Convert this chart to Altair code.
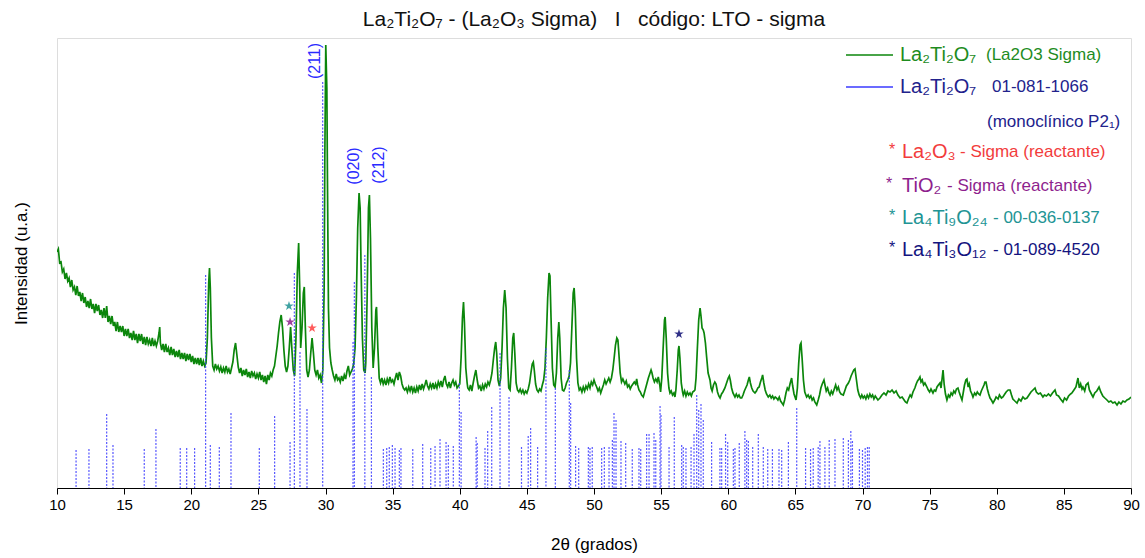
import altair as alt
import pandas as pd

# ---------------- data ----------------
# measured scan: (2theta, intensity in arbitrary units)
scan = [
 (10.0,236),(10.1,239),(10.2,225),(10.3,226),(10.4,216),(10.5,219),(10.6,209),(10.7,215),(10.8,207),(10.9,210),
 (11.0,201),(11.1,208),(11.2,198),(11.3,201),(11.4,193),(11.5,202),(11.6,192),(11.7,196),(11.8,187),(11.9,195),
 (12.0,185),(12.1,191),(12.2,181),(12.3,187),(12.4,180),(12.5,189),(12.6,179),(12.7,184),(12.8,175),(12.9,184),
 (13.0,177),(13.1,183),(13.2,173),(13.3,178),(13.4,170),(13.5,180),(13.6,170),(13.7,182),(13.8,166),(13.9,172),
 (14.0,164),(14.1,172),(14.2,162),(14.3,166),(14.4,157),(14.5,166),(14.6,156),(14.7,162),(14.8,156),(14.9,162),
 (15.0,152),(15.1,159),(15.2,152),(15.3,159),(15.4,150),(15.5,155),(15.6,148),(15.7,157),(15.8,148),(15.9,154),
 (16.0,145),(16.1,154),(16.2,147),(16.3,154),(16.4,144),(16.5,151),(16.6,143),(16.7,151),(16.8,144),(16.9,148),
 (17.0,142),(17.1,150),(17.2,142),(17.3,147),(17.4,142),(17.5,147),(17.6,155),(17.65,161),(17.7,145),(17.8,138),
 (17.9,144),(18.0,136),(18.1,144),(18.2,136),(18.3,140),(18.4,133),(18.5,141),(18.6,133),(18.7,139),(18.8,131),
 (18.9,137),(19.0,131),(19.1,138),(19.2,129),(19.3,135),(19.4,129),(19.5,135),(19.6,127),(19.7,134),(19.8,128),
 (19.9,134),(20.0,126),(20.1,132),(20.2,124),(20.3,130),(20.4,124),(20.5,130),(20.6,123),(20.7,130),(20.8,122),
 (20.9,127),(21.0,122),(21.1,125),(21.2,150),(21.3,205),(21.36,220),(21.42,200),(21.5,150),(21.6,122),(21.7,118),
 (21.8,124),(21.9,119),(22.0,122),(22.1,117),(22.2,121),(22.3,115),(22.4,120),(22.5,116),(22.6,122),(22.7,116),
 (22.8,119),(22.9,114),(23.0,120),(23.1,126),(23.2,138),(23.3,145),(23.4,133),(23.5,121),(23.6,115),(23.7,120),
 (23.8,112),(23.9,118),(24.0,113),(24.1,119),(24.2,111),(24.3,116),(24.4,110),(24.5,117),(24.6,112),(24.7,115),
 (24.8,109),(24.9,114),(25.0,110),(25.1,116),(25.2,108),(25.3,113),(25.4,106),(25.5,112),(25.6,104),(25.7,113),
 (25.8,108),(25.9,115),(26.0,112),(26.1,118),(26.2,122),(26.3,132),(26.4,142),(26.5,155),(26.6,166),(26.7,173),
 (26.8,160),(26.9,138),(27.0,122),(27.1,116),(27.2,122),(27.3,140),(27.4,161),(27.5,138),(27.6,118),(27.7,112),
 (27.8,150),(27.9,215),(28.0,245),(28.08,200),(28.15,140),(28.25,160),(28.35,195),(28.42,201),(28.5,160),(28.6,118),
 (28.7,111),(28.8,118),(28.9,135),(29.0,150),(29.1,135),(29.2,118),(29.3,113),(29.4,118),(29.5,110),(29.6,113),
 (29.7,105),(29.8,118),(29.9,200),(29.95,330),(30.02,443),(30.1,400),(30.15,300),(30.22,180),(30.3,140),(30.4,125),
 (30.5,118),(30.6,112),(30.7,108),(30.8,114),(30.9,108),(31.0,110),(31.1,106),(31.2,112),(31.3,107),(31.4,113),
 (31.5,109),(31.6,117),(31.7,122),(31.8,113),(31.9,116),(32.0,119),(32.1,124),(32.2,140),(32.3,190),(32.4,260),
 (32.5,295),(32.58,280),(32.65,220),(32.75,150),(32.85,118),(32.95,115),(33.0,125),(33.1,190),(33.2,280),(33.27,293),
 (33.35,250),(33.45,160),(33.55,120),(33.65,140),(33.75,178),(33.8,181),(33.9,140),(34.0,110),(34.1,105),(34.2,110),
 (34.3,104),(34.4,108),(34.5,103),(34.6,109),(34.7,105),(34.8,111),(34.9,106),(35.0,108),(35.1,104),(35.2,110),
 (35.3,115),(35.4,108),(35.5,116),(35.6,112),(35.7,104),(35.8,100),(35.9,98),(36.0,100),(36.1,96),(36.2,101),
 (36.3,97),(36.4,102),(36.5,96),(36.6,100),(36.7,95),(36.8,101),(36.9,97),(37.0,103),(37.1,98),(37.2,104),
 (37.3,99),(37.4,103),(37.5,108),(37.6,102),(37.7,99),(37.8,104),(37.9,100),(38.0,105),(38.1,99),(38.2,104),
 (38.3,100),(38.4,106),(38.5,102),(38.6,107),(38.7,101),(38.8,108),(38.9,112),(39.0,104),(39.1,101),(39.2,106),
 (39.3,100),(39.4,105),(39.5,108),(39.6,103),(39.7,106),(39.8,100),(39.9,102),(40.0,104),(40.1,130),(40.2,170),
 (40.28,186),(40.35,165),(40.45,120),(40.55,105),(40.6,100),(40.7,98),(40.8,103),(40.9,97),(41.0,105),(41.1,112),
 (41.2,118),(41.3,108),(41.4,100),(41.5,102),(41.6,97),(41.7,103),(41.8,99),(41.9,104),(42.0,101),(42.1,106),
 (42.2,103),(42.3,108),(42.4,115),(42.5,128),(42.6,140),(42.68,146),(42.75,135),(42.85,108),(42.95,102),(43.05,110),
 (43.15,140),(43.25,180),(43.35,198),(43.45,180),(43.55,130),(43.65,100),(43.75,98),(43.85,120),(43.95,150),(44.02,155),
 (44.1,135),(44.2,105),(44.3,98),(44.4,96),(44.5,99),(44.6,95),(44.7,98),(44.8,94),(44.9,97),(45.0,95),
 (45.1,99),(45.2,105),(45.3,115),(45.4,124),(45.48,126),(45.55,118),(45.65,104),(45.75,98),(45.85,96),(45.95,99),
 (46.05,97),(46.15,103),(46.25,108),(46.35,120),(46.45,150),(46.55,190),(46.65,215),(46.72,212),(46.8,170),(46.9,120),
 (47.0,103),(47.1,101),(47.2,115),(47.3,150),(47.38,166),(47.45,150),(47.55,110),(47.65,98),(47.75,97),(47.85,100),
 (47.95,105),(48.05,108),(48.15,112),(48.25,125),(48.35,160),(48.45,195),(48.52,200),(48.6,180),(48.7,130),(48.8,105),
 (48.9,98),(49.0,100),(49.1,96),(49.2,101),(49.3,97),(49.4,102),(49.5,99),(49.6,104),(49.7,100),(49.8,106),
 (49.9,103),(50.0,108),(50.1,104),(50.2,101),(50.3,97),(50.4,100),(50.5,95),(50.6,99),(50.7,103),(50.8,108),
 (50.9,104),(51.0,107),(51.1,110),(51.2,106),(51.3,110),(51.4,118),(51.5,130),(51.6,143),(51.7,150),(51.78,148),
 (51.85,135),(51.95,115),(52.05,106),(52.15,109),(52.3,104),(52.4,107),(52.5,101),(52.6,103),(52.7,99),(52.8,102),
 (52.9,104),(53.0,106),(53.1,104),(53.18,109),(53.25,103),(53.35,98),(53.45,96),(53.55,93),(53.67,91),(53.75,95),
 (53.85,100),(53.95,105),(54.05,110),(54.15,114),(54.25,118),(54.32,115),(54.4,110),(54.5,106),(54.6,109),(54.7,106),
 (54.79,111),(54.9,103),(54.96,96),(55.05,110),(55.15,140),(55.25,168),(55.3,171),(55.38,150),(55.48,115),(55.58,100),
 (55.66,95),(55.75,97),(55.85,93),(55.95,95),(56.03,91),(56.1,98),(56.2,118),(56.28,138),(56.33,142),(56.4,130),
 (56.5,105),(56.6,96),(56.65,93),(56.75,97),(56.85,92),(56.95,96),(57.05,93),(57.15,95),(57.25,92),(57.35,96),
 (57.45,97),(57.52,98),(57.6,110),(57.7,140),(57.8,168),(57.9,180),(57.97,172),(58.05,160),(58.14,158),(58.2,155),
 (58.3,145),(58.39,131),(58.5,115),(58.64,108),(58.72,100),(58.8,97),(58.9,103),(59.0,106),(59.09,104),(59.2,96),
 (59.3,92),(59.39,90),(59.5,94),(59.6,96),(59.75,100),(59.9,106),(60.0,110),(60.08,112),(60.15,108),(60.25,100),
 (60.35,95),(60.5,91),(60.6,94),(60.7,91),(60.8,93),(60.9,90),(61.0,90),(61.1,93),(61.2,97),(61.3,100),
 (61.4,103),(61.5,108),(61.57,111),(61.65,105),(61.75,100),(61.85,97),(61.99,95),(62.1,97),(62.2,100),(62.3,101),
 (62.4,106),(62.5,110),(62.56,113),(62.65,105),(62.75,98),(62.85,94),(62.98,91),(63.1,93),(63.2,90),(63.3,92),
 (63.4,89),(63.5,91),(63.6,90),(63.7,88),(63.8,91),(63.9,87),(64.0,85),(64.1,83),(64.2,88),(64.3,95),
 (64.4,100),(64.5,98),(64.6,104),(64.72,110),(64.8,102),(64.9,94),(65.05,88),(65.15,100),(65.25,125),(65.35,143),
 (65.42,145),(65.5,130),(65.6,108),(65.7,96),(65.84,91),(65.95,93),(66.05,90),(66.15,92),(66.25,88),(66.35,90),
 (66.45,86),(66.59,83),(66.7,88),(66.8,93),(66.9,100),(67.0,104),(67.13,108),(67.22,102),(67.3,97),(67.4,100),
 (67.5,95),(67.58,93),(67.68,97),(67.78,94),(67.9,99),(68.0,103),(68.1,98),(68.2,101),(68.3,96),(68.4,94),
 (68.57,93),(68.7,98),(68.8,102),(68.95,105),(69.05,108),(69.15,112),(69.25,115),(69.35,118),(69.44,119),(69.55,108),
 (69.65,98),(69.75,93),(69.86,90),(69.95,93),(70.05,90),(70.15,92),(70.25,89),(70.35,93),(70.45,90),(70.55,94),
 (70.65,91),(70.75,93),(70.85,89),(70.95,92),(71.05,90),(71.15,88),(71.3,90),(71.45,93),(71.6,95),(71.75,93),
 (71.9,97),(72.05,96),(72.2,98),(72.35,95),(72.5,97),(72.64,93),(72.8,90),(72.95,91),(73.1,88),(73.2,86),
 (73.31,85),(73.45,90),(73.55,93),(73.65,91),(73.76,96),(73.9,100),(74.0,104),(74.1,107),(74.2,109),(74.28,111),
 (74.36,106),(74.45,108),(74.55,103),(74.65,105),(74.8,101),(74.9,98),(75.0,96),(75.1,99),(75.25,95),(75.35,98),
 (75.45,97),(75.55,101),(75.65,103),(75.77,105),(75.85,100),(75.95,112),(76.0,118),(76.08,104),(76.18,94),(76.29,88),
 (76.4,93),(76.5,91),(76.6,95),(76.7,93),(76.8,97),(76.9,95),(77.0,99),(77.11,100),(77.2,96),(77.3,92),
 (77.41,88),(77.5,95),(77.6,103),(77.7,108),(77.78,109),(77.87,101),(77.95,104),(78.05,97),(78.15,94),(78.23,91),
 (78.35,95),(78.45,93),(78.55,96),(78.65,94),(78.75,93),(78.85,97),(78.95,100),(79.05,103),(79.12,106),(79.2,106),
 (79.3,99),(79.4,94),(79.5,90),(79.6,88),(79.72,85),(79.85,88),(79.95,91),(80.1,89),(80.2,93),(80.35,90),
 (80.46,91),(80.6,94),(80.7,96),(80.85,98),(80.99,98),(81.1,93),(81.2,89),(81.35,87),(81.51,85),(81.65,89),
 (81.8,87),(81.95,91),(82.1,89),(82.25,90),(82.4,93),(82.55,96),(82.7,98),(82.85,100),(82.95,96),(83.1,94),
 (83.25,95),(83.44,91),(83.55,93),(83.7,92),(83.85,94),(84.0,92),(84.15,95),(84.34,98),(84.45,93),(84.6,92),
 (84.75,89),(84.93,86),(85.05,90),(85.2,88),(85.35,92),(85.5,94),(85.6,95),(85.75,98),(85.9,101),(86.0,107),
 (86.05,110),(86.15,100),(86.25,104),(86.35,99),(86.42,101),(86.55,97),(86.65,103),(86.8,105),(86.9,98),(87.05,94),
 (87.17,91),(87.3,95),(87.45,97),(87.62,101),(87.75,96),(87.9,92),(88.05,90),(88.21,88),(88.35,86),(88.5,87),
 (88.65,85),(88.8,86),(88.96,83),(89.1,86),(89.25,84),(89.4,87),(89.55,86),(89.7,88),(89.85,89),(90.0,91),
]

# reference pattern 01-081-1066 (stick positions / heights)
stick_pos = [11.42,12.38,13.70,14.17,16.50,17.37,19.18,19.66,20.25,21.07,21.42,22.09,22.96,25.07,26.21,27.36,27.68,
             28.10,28.62,29.79,32.05,32.15,32.93,33.42,34.31,34.56,34.75,34.98,35.18,35.50,35.62,36.50,37.24,37.84,
             38.16,38.53,38.98,39.15,39.52,39.97,40.10,41.22,41.30,41.88,42.08,42.38,43.00,43.67,44.60,45.10,45.28,
             45.80,46.42,47.12,48.16,48.26,48.63,48.86,49.58,49.70,49.87,50.57,50.77,51.12,51.37,51.49,51.64,52.01,
             52.36,52.85,53.35,53.48,53.92,54.10,54.47,54.60,54.92,54.99,55.59,55.98,56.53,56.65,56.85,57.23,57.45,
             57.65,57.80,57.97,58.14,58.76,59.38,59.51,59.80,59.96,60.38,60.50,60.82,61.24,61.37,61.50,61.82,62.24,
             62.61,62.94,63.29,63.78,63.98,64.48,65.10,65.76,66.13,66.33,66.70,66.83,67.20,67.52,67.95,68.57,68.95,
             69.13,69.25,69.77,70.00,70.20,70.37,70.50]
stick_h = [38,39,74,43,39,59,40,40,40,213,43,41,75,40,72,46,215,
           136,79,406,146,206,233,111,39,40,41,43,40,38,40,39,44,40,
           42,49,46,43,42,105,76,51,45,40,57,81,135,91,41,52,60,
           41,140,100,118,85,42,40,41,40,41,40,41,41,48,75,68,47,
           45,39,40,39,54,54,55,48,82,73,41,71,43,41,40,41,54,
           93,78,84,68,46,40,40,54,46,39,40,45,57,48,47,41,54,
           41,39,39,39,38,46,80,40,39,40,41,47,41,48,49,50,48,
           57,47,39,38,40,41,41]

# impurity markers
star_x = [27.28, 27.36, 29.0, 56.33]
star_y = [182, 166, 160, 154]
star_phase = ["La4Ti9O24", "TiO2", "La2O3", "La4Ti3O12"]
star_colors = ["#2b9898", "#932c93", "#ff4a4a", "#1a1a7a"]

# Miller index labels
hkl_text = ["(211)", "(020)", "(212)"]
hkl_x = [29.22, 32.12, 34.02]
hkl_y = [427, 322, 323]

# ---------------- build ----------------
FONT = "Liberation Sans"
NB = "\u00a0"
scan_df = pd.DataFrame(scan, columns=["tt", "I"])
stick_df = pd.DataFrame({"pos": stick_pos, "h": stick_h})
star_df = pd.DataFrame({"x": star_x, "y": star_y, "phase": star_phase, "c": star_colors})
hkl_df = pd.DataFrame({"t": hkl_text, "x": hkl_x, "y": hkl_y})

xs = alt.Scale(domain=[10, 90], nice=False, zero=False)
ys = alt.Scale(domain=[0, 450], nice=False, zero=False)

tick_vals = [10 + 2.5 * i for i in range(33)]
xaxis = alt.Axis(
    values=tick_vals, format="~g",
    labelExpr="datum.value % 5 === 0 ? datum.label : ''",
    tickSize={"condition": {"test": "datum.value % 5 === 0", "value": 6}, "value": 3},
    labelFontSize=15, labelFont=FONT, labelColor="#000", labelPadding=3, labelFlush=False,
    labelOverlap=False,
    tickColor="#000", domainColor="#000", grid=False,
    titleFont=FONT, titleFontSize=17, titleFontWeight="normal", titleColor="#000", titlePadding=24,
)
yaxis = alt.Axis(labels=False, ticks=False, domain=False, grid=False,
                 titleFont=FONT, titleFontSize=17, titleFontWeight="normal", titleColor="#000",
                 titlePadding=27)

line = alt.Chart(scan_df).mark_line(color="#0b860b", strokeWidth=1.7, clip=True).encode(
    x=alt.X("tt:Q", scale=xs, axis=xaxis, title="2θ (grados)"),
    y=alt.Y("I:Q", scale=ys, axis=yaxis, title="Intensidad (u.a.)"),
)

sticks = alt.Chart(stick_df).mark_rule(color="#3a3aff", strokeWidth=1.2, strokeDash=[2, 1.5], opacity=0.85).encode(
    x=alt.X("pos:Q", scale=xs),
    y=alt.Y("h:Q", scale=ys),
    y2=alt.datum(0),
)

star_path = "M0,-1L0.2245,-0.309L0.951,-0.309L0.363,0.118L0.588,0.809L0,0.382L-0.588,0.809L-0.363,0.118L-0.951,-0.309L-0.2245,-0.309Z"
stars = alt.Chart(star_df).mark_point(shape=star_path, filled=True, size=100, opacity=0.9).encode(
    x=alt.X("x:Q", scale=xs),
    y=alt.Y("y:Q", scale=ys),
    color=alt.Color("c:N", scale=None),
)

hkl = alt.Chart(hkl_df).mark_text(angle=270, font=FONT, fontSize=16, color="#2a2aff",
                                   align="center", baseline="middle").encode(
    x=alt.X("x:Q", scale=xs), y=alt.Y("y:Q", scale=ys), text="t:N")

# ---------------- legend (drawn as annotation, pixel positions inside plot) ----------------
GREEN, NAVY, RED, PURPLE, TEAL, NAVY2 = "#1e8c1e", "#22228c", "#f23c3c", "#8e1f8e", "#229494", "#14147f"
leg_rows = [
    ("La₂Ti₂O₇", 843, 17, GREEN, 20), ("(La2O3 Sigma)", 929, 17, GREEN, 17),
    ("La₂Ti₂O₇", 843, 49, NAVY, 20), ("01-081-1066", 935, 49, NAVY, 17),
    ("(monoclínico P2₁)", 930, 84, NAVY, 17),
    ("*", 832, 112, RED, 16), ("La₂O₃", 845, 114, RED, 20), ("- Sigma (reactante)", 903, 114, RED, 17),
    ("*", 829, 146, PURPLE, 16), ("TiO₂", 845, 148, PURPLE, 20), ("- Sigma (reactante)", 890, 148, PURPLE, 17),
    ("*", 832, 178, TEAL, 16), ("La₄Ti₉O₂₄", 845, 180, TEAL, 20), ("- 00-036-0137", 936, 180, TEAL, 17),
    ("*", 832, 210, NAVY2, 16), ("La₄Ti₃O₁₂", 845, 212, NAVY2, 20), ("- 01-089-4520", 936, 212, NAVY2, 17),
]
leg_df = pd.DataFrame(leg_rows, columns=["t", "px", "py", "c", "fs"])
legend_text = alt.Chart(leg_df).mark_text(font=FONT, align="left", baseline="middle").encode(
    x=alt.X("px:Q", scale=None, axis=None),
    y=alt.Y("py:Q", scale=None, axis=None),
    text="t:N",
    color=alt.Color("c:N", scale=None),
    size=alt.Size("fs:Q", scale=None),
)
one = pd.DataFrame({"k": [0]})
leg_line1 = alt.Chart(one).mark_rule(color="#0b860b", strokeWidth=1.5).encode(
    x=alt.value(789), x2=alt.value(836), y=alt.value(17))
leg_line2 = alt.Chart(one).mark_rule(color="#3a3aff", strokeWidth=1.5).encode(
    x=alt.value(789), x2=alt.value(836), y=alt.value(49))

title_text = "La₂Ti₂O₇ - (La₂O₃ Sigma)" + NB * 3 + "I" + NB * 3 + "código: LTO - sigma"

chart = alt.layer(line, sticks, stars, hkl, legend_text, leg_line1, leg_line2).properties(
    width=1074, height=450,
    title=alt.TitleParams(title_text,
                          font=FONT, fontSize=21, fontWeight="normal", color="#111",
                          anchor="middle", offset=8),
    autosize=alt.AutoSizeParams(type="none"),
    padding={"left": 57, "top": 38, "right": 14, "bottom": 70},
).configure_view(stroke="#222", strokeWidth=1.3).configure(background="white")

chart.save("out.html", embed_options={"renderer": "svg", "actions": False})
